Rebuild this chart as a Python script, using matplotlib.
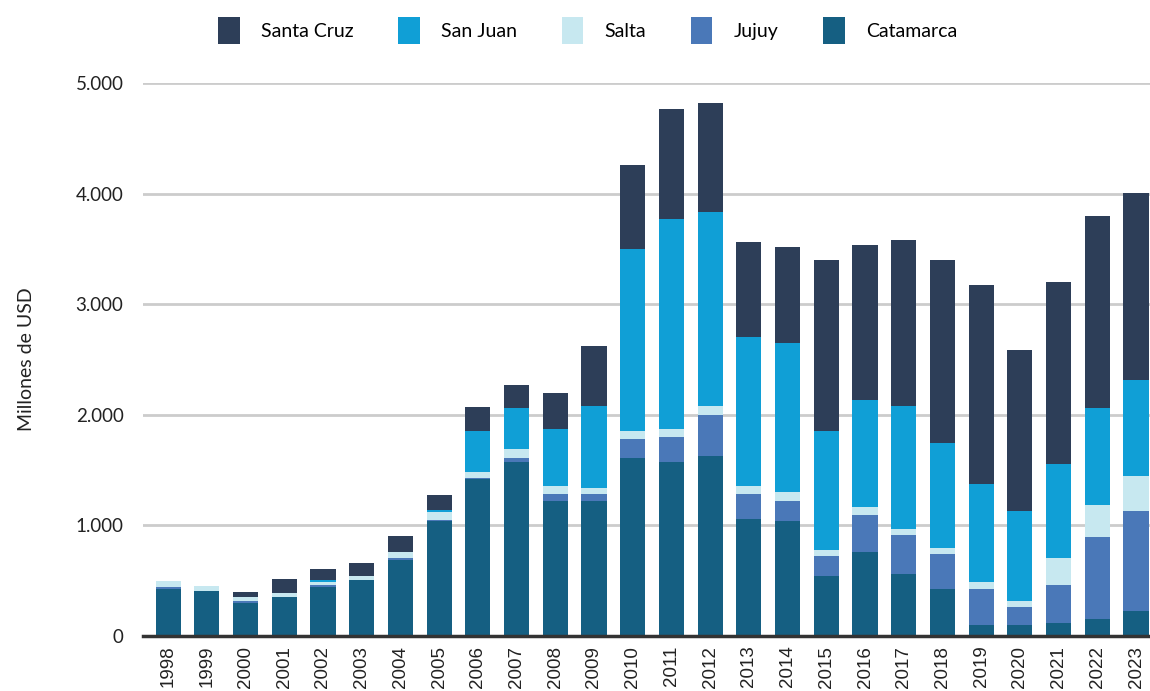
import matplotlib
matplotlib.use('Agg')
import matplotlib.pyplot as plt
import numpy as np
from matplotlib.ticker import FuncFormatter

# === DATOS (millones de USD) ===
anios = [str(a) for a in range(1998, 2024)]
catamarca = [428, 407, 300, 353, 443, 506, 687, 1040, 1416, 1575, 1222, 1222, 1609, 1575,
             1628, 1059, 1041, 541, 759, 559, 425, 97, 97, 116, 153, 225]
jujuy = [18, 0, 18, 0, 21, 3, 18, 5, 15, 34, 62, 62, 172, 225,
         372, 225, 181, 181, 335, 354, 316, 328, 162, 343, 741, 906]
salta = [50, 45, 35, 36, 24, 36, 54, 72, 53, 82, 75, 54, 75, 75,
         81, 75, 81, 56, 72, 56, 56, 63, 57, 244, 294, 319]
san_juan = [0, 0, 0, 0, 18, 0, 0, 18, 372, 372, 513, 743, 1647, 1891,
            1757, 1347, 1350, 1078, 968, 1112, 950, 887, 815, 853, 875, 866]
santa_cruz = [0, 0, 45, 126, 100, 118, 145, 136, 216, 209, 328, 544, 753, 1000,
              981, 860, 860, 1547, 1397, 1503, 1656, 1803, 1457, 1641, 1731, 1693]

series = [
    ("Catamarca", catamarca, "#155f82"),
    ("Jujuy", jujuy, "#4a78b8"),
    ("Salta", salta, "#c7e8f0"),
    ("San Juan", san_juan, "#109fd6"),
    ("Santa Cruz", santa_cruz, "#2d3e58"),
]

fig = plt.figure(figsize=(11.5, 6.91), dpi=100)
ax = fig.add_axes([0.1243, 0.0796, 0.876, 0.8003])

x = np.arange(len(anios))
base = np.zeros(len(anios))
handles = {}
for nombre, vals, color in series:
    vals = np.array(vals, dtype=float)
    h = ax.bar(x, vals, bottom=base, width=0.65, color=color, label=nombre, zorder=3)
    handles[nombre] = h
    base += vals

ax.set_ylim(0, 5000)
ax.set_xlim(-0.65, len(anios) - 0.63)
ax.set_yticks([0, 1000, 2000, 3000, 4000, 5000])
ax.yaxis.set_major_formatter(FuncFormatter(lambda v, p: f"{int(v):,}".replace(",", ".")))
ax.grid(axis='y', color='#cccccc', linewidth=2, zorder=0)
for s in ['top', 'right', 'left']:
    ax.spines[s].set_visible(False)
ax.spines['bottom'].set_color('#333333')
ax.spines['bottom'].set_linewidth(2.5)
ax.spines['bottom'].set_zorder(4)
ax.tick_params(axis='y', length=0, pad=14, labelsize=13.5, labelcolor='#222222')
ax.tick_params(axis='x', length=0, pad=7)
for t in ax.get_yticklabels():
    t.set_fontfamily('Lato')

ax.set_xticks(x)
ax.set_xticklabels(anios, rotation=90, fontsize=13.5, family='Liberation Sans', color='#222222',
                   va='top')
ax.set_ylabel("Millones de USD", fontsize=14, family='Lato', color='#222222', labelpad=29)

orden = ["Santa Cruz", "San Juan", "Salta", "Jujuy", "Catamarca"]
leg = fig.legend([handles[n] for n in orden], orden, loc='upper center', ncol=5, frameon=False,
                 bbox_to_anchor=(0.511, 1.0), handlelength=1.1, handleheight=1.7,
                 columnspacing=2.3, handletextpad=1.1, prop={'family': 'Lato', 'size': 14})

fig.savefig("out.png", dpi=100)
